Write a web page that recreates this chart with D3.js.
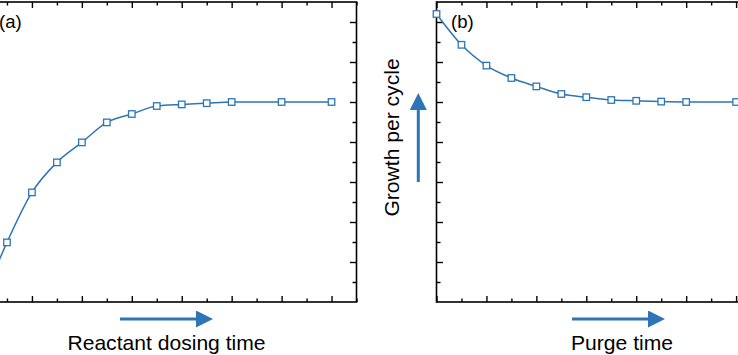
<!DOCTYPE html>
<html>
<head>
<meta charset="utf-8">
<script src="https://cdn.jsdelivr.net/npm/d3@7"></script>
<style>
  html, body { margin: 0; padding: 0; background: #fff; }
  svg { display: block; }
  text { font-family: "Liberation Sans", Arial, Helvetica, sans-serif; fill: #000; }
</style>
</head>
<body>
<svg id="chart" width="738" height="355"></svg>
<script>
// ---- data ----
const dosingTime = [0, 0.5, 1, 1.5, 2, 2.5, 3, 3.5, 4, 4.5, 5, 6, 7];
const gpcDosing  = [0, 1.49, 2.74, 3.49, 3.99, 4.49, 4.70, 4.90, 4.94, 4.97, 5.0, 5.0, 5.0];
const purgeTime  = [0, 0.5, 1, 1.5, 2, 2.5, 3, 3.5, 4, 4.5, 5, 6, 7];
const gpcPurge   = [7.2, 6.43, 5.91, 5.60, 5.39, 5.20, 5.12, 5.05, 5.03, 5.01, 5.0, 5.0, 5.0];
const majorTicks = [0, 1, 2, 3, 4, 5, 6, 7];
const minorTicks = [0.5, 1.5, 2.5, 3.5, 4.5, 5.5, 6.5, 7.5];
const yMajorTicks = [1, 2, 3, 4, 5, 6, 7];
const yMinorTicks = [0.5, 1.5, 2.5, 3.5, 4.5, 5.5, 6.5];
const panelLabels = ["(a)", "(b)"];
const xTitles = ["Reactant dosing time", "Purge time"];
const yTitle = "Growth per cycle";

(function () {
const blue = "#2e75b6";
const svg = d3.select("#chart");

const plotTop = 2, plotBottom = 302;
const y = d3.scaleLinear().domain([0, 7.5]).range([plotBottom, plotTop]);

const panels = [
  { x0: -18, x1: 356.5, xs: dosingTime, ys: gpcDosing, label: panelLabels[0], title: xTitles[0], spine: "right" },
  { x0: 436.5, x1: 811, xs: purgeTime, ys: gpcPurge, label: panelLabels[1], title: xTitles[1], spine: "left" }
];

// arrow marker
const defs = svg.append("defs");
defs.append("marker")
  .attr("id", "ah").attr("viewBox", "0 0 10 10")
  .attr("refX", 0).attr("refY", 5)
  .attr("markerWidth", 17).attr("markerHeight", 17)
  .attr("markerUnits", "userSpaceOnUse")
  .attr("orient", "auto")
  .append("path").attr("d", "M0,0 L10,5 L0,10 Z").attr("fill", blue);

panels.forEach((p, i) => {
  const x = d3.scaleLinear().domain([0, 7.5]).range([p.x0, p.x1]);
  const g = svg.append("g");

  const clean = sel => {
    sel.select(".domain").remove();
    sel.selectAll(".tick text").remove();
    sel.selectAll(".tick line").attr("stroke", "#000").attr("stroke-width", 1.4);
  };

  g.append("g").attr("transform", `translate(0,${plotBottom})`)
    .call(d3.axisBottom(x).tickValues(majorTicks).tickSize(-6).tickFormat("")).call(clean);
  g.append("g").attr("transform", `translate(0,${plotBottom})`)
    .call(d3.axisBottom(x).tickValues(minorTicks).tickSize(-3.5).tickFormat("")).call(clean);
  g.append("g").attr("transform", `translate(0,${plotTop})`)
    .call(d3.axisTop(x).tickValues(majorTicks).tickSize(-6).tickFormat("")).call(clean);
  g.append("g").attr("transform", `translate(0,${plotTop})`)
    .call(d3.axisTop(x).tickValues(minorTicks).tickSize(-3.5).tickFormat("")).call(clean);

  if (p.spine === "right") {
    g.append("g").attr("transform", `translate(${p.x1},0)`)
      .call(d3.axisRight(y).tickValues(yMajorTicks).tickSize(-6.5).tickFormat("")).call(clean);
    g.append("g").attr("transform", `translate(${p.x1},0)`)
      .call(d3.axisRight(y).tickValues(yMinorTicks).tickSize(-4).tickFormat("")).call(clean);
  } else {
    g.append("g").attr("transform", `translate(${p.x0},0)`)
      .call(d3.axisLeft(y).tickValues(yMajorTicks).tickSize(-6.5).tickFormat("")).call(clean);
    g.append("g").attr("transform", `translate(${p.x0},0)`)
      .call(d3.axisLeft(y).tickValues(yMinorTicks).tickSize(-4).tickFormat("")).call(clean);
  }

  // frame
  g.append("rect").attr("x", p.x0).attr("y", plotTop)
    .attr("width", p.x1 - p.x0).attr("height", plotBottom - plotTop)
    .attr("fill", "none").attr("stroke", "#000").attr("stroke-width", 1.6);

  // data line
  const pts = p.xs.map((v, k) => [v, p.ys[k]]);
  const line = d3.line().x(d => x(d[0])).y(d => y(d[1])).curve(d3.curveMonotoneX);
  g.append("path").attr("d", line(pts)).attr("fill", "none")
    .attr("stroke", blue).attr("stroke-width", 1.5);

  // markers
  const s = 6.5;
  g.selectAll("rect.pt").data(pts).enter().append("rect").attr("class", "pt")
    .attr("x", d => x(d[0]) - s / 2).attr("y", d => y(d[1]) - s / 2)
    .attr("width", s).attr("height", s)
    .attr("fill", "#fff").attr("stroke", blue).attr("stroke-width", 1.3);

  // panel label
  g.append("text")
    .attr("transform", `translate(${i === 0 ? -1 : 451},28) scale(1.06,1)`)
    .attr("font-size", 17.5).text(p.label);

  // x title + arrow
  const cx = i === 0 ? 166.5 : 622;
  g.append("text").attr("transform", `translate(${cx},350) scale(1.055,1)`)
    .attr("text-anchor", "middle").attr("font-size", 20).text(p.title);
  const ax = i === 0 ? 120 : 572;
  g.append("line").attr("x1", ax).attr("x2", ax + 76).attr("y1", 319).attr("y2", 319)
    .attr("stroke", blue).attr("stroke-width", 3).attr("marker-end", "url(#ah)");
});

// y title + vertical arrow
svg.append("text")
  .attr("transform", "translate(399,137.5) rotate(-90) scale(1.055,1)")
  .attr("text-anchor", "middle").attr("font-size", 20).text(yTitle);
svg.append("line").attr("x1", 418.3).attr("x2", 418.3).attr("y1", 182).attr("y2", 110)
  .attr("stroke", blue).attr("stroke-width", 3).attr("marker-end", "url(#ah)");
})();
</script>
</body>
</html>
